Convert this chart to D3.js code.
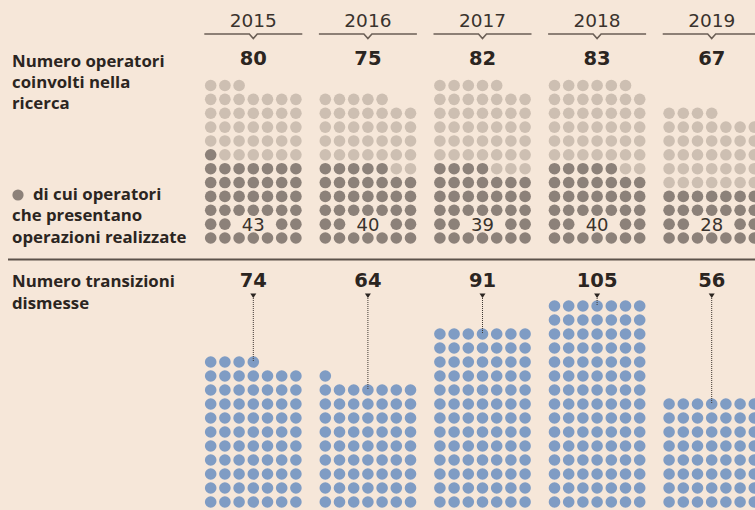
<!DOCTYPE html>
<html>
<head>
<meta charset="utf-8">
<script src="https://cdn.jsdelivr.net/npm/d3@7"></script>
<style>
  body { margin: 0; background: #f6e7d9; }
  svg { display: block; }
  .lbl { font-family: "Open Sans", sans-serif; font-weight: 700; fill: #2b2521; }
  .num { font-family: "DejaVu Sans", sans-serif; font-weight: 700; fill: #2b2521; }
  .year { font-family: "DejaVu Sans", sans-serif; fill: #3a332d; }
</style>
</head>
<body>
<div id="chart"></div>
<script>
var w = 755;
var h = 510;

var years = ["2015", "2016", "2017", "2018", "2019"];
var operatori = [80, 75, 82, 83, 67];
var conOperazioni = [43, 40, 39, 40, 28];
var transizioni = [74, 64, 91, 105, 56];

var perRow = 7;
var bg = "#f6e7d9";

var svg = d3.select("#chart")
    .append("svg")
    .attr("width", w)
    .attr("height", h);

svg.append("rect")
    .attr("width", w)
    .attr("height", h)
    .attr("fill", bg);

// one band per year, 7 dot columns inside each band
var x = d3.scaleBand()
    .domain(years)
    .range([196, 769]);

var col = d3.scaleLinear()
    .domain([0, perRow - 1])
    .range([-42.6, 42.6]);

var rowTop = d3.scaleLinear().domain([0, 11]).range([238, 85.5]);
var rowBottom = d3.scaleLinear().domain([0, 10]).range([502, 362]);

function cx(year, i) {
    return x(year) + x.bandwidth() / 2 + col(i % perRow);
}

// left labels
function lines(arr, x0, y0, step, size) {
    var t = svg.append("text").attr("class", "lbl").attr("font-size", size);
    arr.forEach(function(s, i) {
        t.append("tspan").attr("x", x0).attr("y", y0 + i * step).text(s);
    });
}
lines(["Numero operatori", "coinvolti nella", "ricerca"], 12, 67, 21, 16.8);
lines(["di cui operatori"], 33, 200, 21, 16.8);
lines(["che presentano", "operazioni realizzate"], 12, 221, 21.5, 16.8);
lines(["Numero transizioni", "dismesse"], 12, 287, 21.5, 16.8);

svg.append("circle")
    .attr("cx", 18).attr("cy", 195).attr("r", 5.6)
    .attr("fill", "#8c8179");

// separator
svg.append("line")
    .attr("x1", 8).attr("x2", w)
    .attr("y1", 259.5).attr("y2", 259.5)
    .attr("stroke", "#5c524a")
    .attr("stroke-width", 2.2);

// year headers
var head = svg.selectAll("g.head")
    .data(years)
    .enter()
    .append("g")
    .attr("class", "head")
    .attr("transform", function(d) {
        return "translate(" + (x(d) + x.bandwidth() / 2) + ",0)";
    });

head.append("text")
    .attr("class", "year")
    .attr("text-anchor", "middle")
    .attr("y", 27)
    .attr("font-size", 18.5)
    .text(function(d) { return d; });

head.append("path")
    .attr("d", "M-49,34H-4L0,38.5L4,34H49")
    .attr("fill", "none")
    .attr("stroke", "#6b5f56")
    .attr("stroke-width", 1.6);

head.append("text")
    .attr("class", "num")
    .attr("text-anchor", "middle")
    .attr("y", 65)
    .attr("font-size", 19.5)
    .text(function(d, i) { return operatori[i]; });

// upper dots: dark ones (with operations) first, then light ones
var topDots = [];
years.forEach(function(y, k) {
    for (var i = 0; i < operatori[k]; i++) {
        topDots.push({ year: y, i: i, dark: i < conOperazioni[k] });
    }
});

svg.selectAll("circle.op")
    .data(topDots)
    .enter()
    .append("circle")
    .attr("class", "op")
    .attr("cx", function(d) { return cx(d.year, d.i); })
    .attr("cy", function(d) { return rowTop(Math.floor(d.i / perRow)); })
    .attr("r", 5.8)
    .attr("fill", function(d) { return d.dark ? "#8c8179" : "#cdbfb2"; });

// value of the dark group, over the second row
var inner = svg.selectAll("g.inner")
    .data(years)
    .enter()
    .append("g")
    .attr("class", "inner")
    .attr("transform", function(d) {
        return "translate(" + (x(d) + x.bandwidth() / 2) + "," + rowTop(1) + ")";
    });

inner.append("rect")
    .attr("x", -21).attr("y", -7)
    .attr("width", 42).attr("height", 14)
    .attr("fill", bg);

inner.append("text")
    .attr("class", "year")
    .attr("text-anchor", "middle")
    .attr("y", 6.5)
    .attr("font-size", 18)
    .attr("fill", "#2b2521")
    .text(function(d, i) { return conOperazioni[i]; });

// lower dots
var lowDots = [];
years.forEach(function(y, k) {
    for (var i = 0; i < transizioni[k]; i++) {
        lowDots.push({ year: y, i: i });
    }
});

svg.selectAll("circle.tr")
    .data(lowDots)
    .enter()
    .append("circle")
    .attr("class", "tr")
    .attr("cx", function(d) { return cx(d.year, d.i); })
    .attr("cy", function(d) { return rowBottom(Math.floor(d.i / perRow)); })
    .attr("r", 5.8)
    .attr("fill", "#7f9cc4");

// labels + dotted leader to the top dot of the middle column
var low = svg.selectAll("g.low")
    .data(years)
    .enter()
    .append("g")
    .attr("class", "low")
    .attr("transform", function(d) {
        return "translate(" + (x(d) + x.bandwidth() / 2) + ",0)";
    });

low.append("line")
    .attr("y1", 296)
    .attr("y2", function(d, i) {
        var v = transizioni[i];
        var topRow = Math.floor((v - 4) / perRow);
        return rowBottom(topRow);
    })
    .attr("stroke", "#3f3832")
    .attr("stroke-width", 1)
    .attr("stroke-dasharray", "1,1");

low.append("path")
    .attr("d", "M-3,293.5H3L0,298Z")
    .attr("fill", "#2b2521");

low.append("text")
    .attr("class", "num")
    .attr("text-anchor", "middle")
    .attr("y", 287)
    .attr("font-size", 19.5)
    .text(function(d, i) { return transizioni[i]; });
</script>
</body>
</html>
